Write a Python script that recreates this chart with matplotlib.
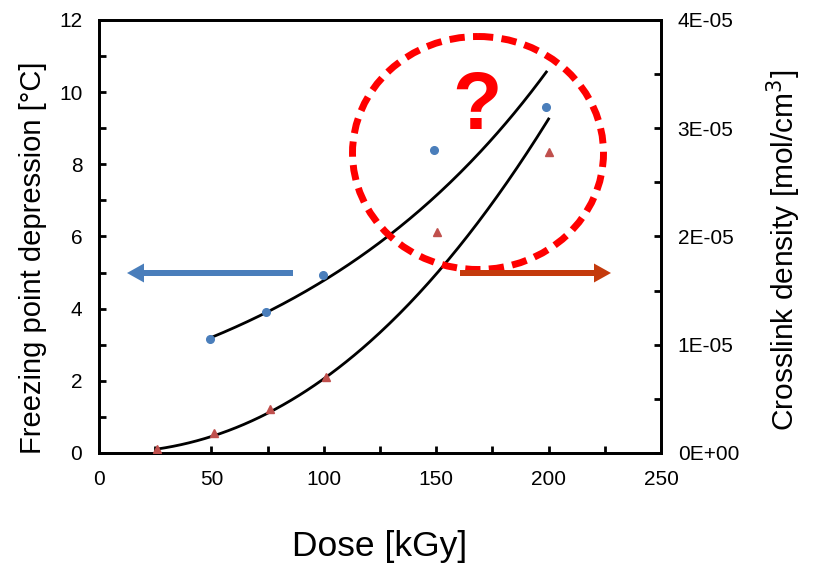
import matplotlib
matplotlib.use("Agg")
import matplotlib.pyplot as plt
import numpy as np
from matplotlib.patches import Ellipse, FancyArrow
from matplotlib.ticker import FuncFormatter, MultipleLocator

plt.rcParams["font.family"] = ["Liberation Sans", "DejaVu Sans"]

# freezing point depression (left axis)
dose_fp = [49.5, 74.5, 99.5, 149, 199]
fp_depression = [3.16, 3.91, 4.93, 8.40, 9.59]
# exponential trendline y = a * exp(b * x)
fp_trend_a, fp_trend_b = 2.146, 0.008007

# crosslink density (right axis)
dose_xl = [26, 51, 76, 101, 150.5, 200]
crosslink = [3.7e-7, 1.83e-6, 4.07e-6, 7.0e-6, 2.04e-5, 2.78e-5]
# power trendline y = a * x ** b
xl_trend_a, xl_trend_b = 3.134e-10, 2.17

BLUE = "#4a7ebb"
RED_TRI = "#c0504d"

fig = plt.figure(figsize=(8.13, 5.63), dpi=100)
ax = fig.add_axes([0.1218, 0.1954, 0.6912, 0.7691])
ax2 = ax.twinx()

ax.plot(dose_fp, fp_depression, "o", color=BLUE, ms=5.5, zorder=3)
xs = np.linspace(min(dose_fp), max(dose_fp), 200)
ax.plot(xs, fp_trend_a * np.exp(fp_trend_b * xs), color="black", lw=2, zorder=2)

ax2.plot(dose_xl, crosslink, "^", color=RED_TRI, ms=5.5, zorder=3)
xs = np.linspace(min(dose_xl), max(dose_xl), 200)
ax2.plot(xs, xl_trend_a * xs ** xl_trend_b, color="black", lw=2, zorder=2)

ax.set_xlim(0, 250)
ax.set_ylim(0, 12)
ax2.set_ylim(0, 4e-5)

ax.xaxis.set_major_locator(MultipleLocator(50))
ax.xaxis.set_minor_locator(MultipleLocator(25))
ax.yaxis.set_major_locator(MultipleLocator(2))
ax.yaxis.set_minor_locator(MultipleLocator(1))
ax2.yaxis.set_major_locator(MultipleLocator(1e-5))
ax2.yaxis.set_minor_locator(MultipleLocator(5e-6))
ax2.yaxis.set_major_formatter(
    FuncFormatter(lambda v, p: "%dE-05" % round(v / 1e-5) if v > 0 else "0E+00")
)

for a in (ax, ax2):
    for s in a.spines.values():
        s.set_linewidth(2)
    a.tick_params(which="both", direction="in", width=2, length=5, labelsize=15)
ax.tick_params(axis="x", pad=12)
ax.tick_params(axis="y", pad=12)
ax2.tick_params(axis="y", pad=12)

ax.set_xlabel("Dose [kGy]", fontsize=25.5, labelpad=30)
ax.set_ylabel("Freezing point depression [°C]", fontsize=21)
ax.yaxis.set_label_coords(-0.093, 0.45)
ax2.set_ylabel("Crosslink density [mol/cm$^3$]", fontsize=21.5)
ax2.yaxis.set_label_coords(1.185, 0.467)

# annotation layer in pixel-based figure coordinates
W, H = 813, 563
ov = fig.add_axes([0, 0, 1, 1], facecolor="none")
ov.set_xlim(0, W)
ov.set_ylim(H, 0)
ov.axis("off")

ov.add_patch(Ellipse((478, 153), 251, 233, fill=False, edgecolor="red",
                     lw=5, ls=(0, (2.2, 1.2))))
ov.text(477, 108, "?", color="red", fontsize=58, fontweight="bold",
        ha="center", va="center")
ov.add_patch(FancyArrow(293, 273, -149, 0, width=6, head_width=19,
                        head_length=17, color=BLUE, lw=0))
ov.add_patch(FancyArrow(460, 273, 134, 0, width=6, head_width=19,
                        head_length=17, color="#c43a0c", lw=0))

fig.savefig("out.png", dpi=100)
